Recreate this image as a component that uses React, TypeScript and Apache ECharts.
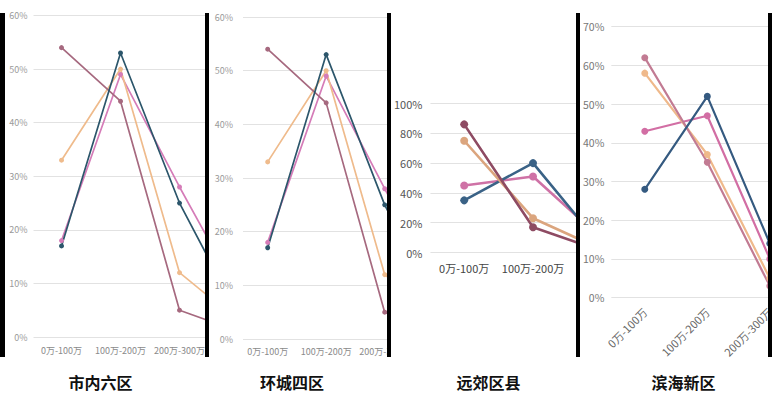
import React, { useEffect, useRef } from 'react';
import * as echarts from 'echarts';

const FONT = "'Noto Sans CJK SC', 'Open Sans', sans-serif";

const categories = ['0万-100万', '100万-200万', '200万-300万'];

// 市内六区 (last value is the tail that the crop cuts off)
const cityBlue = [17, 53, 25, 4];
const cityTan = [33, 50, 12, 3];
const cityMauve = [54, 44, 5, 1];
const cityPink = [18, 49, 28, 8];

// 环城四区
const ringBlue = [17, 53, 25, 4];
const ringTan = [33, 50, 12, 3];
const ringMauve = [54, 44, 5, 1];
const ringPink = [18, 49, 28, 8];

// 远郊区县
const suburbBlue = [35, 60, 4];
const suburbTan = [75, 23, 2];
const suburbMauve = [86, 17, 1];
const suburbPink = [45, 51, 9];

// 滨海新区
const coastBlue = [28, 52, 14];
const coastTan = [58, 37, 5];
const coastMauve = [62, 35, 3];
const coastPink = [43, 47, 10];

const cityTicks = [0, 10, 20, 30, 40, 50, 60];
const suburbTicks = [0, 20, 40, 60, 80, 100];
const coastTicks = [0, 10, 20, 30, 40, 50, 60, 70];

interface PanelCfg {
  title: string;
  left: number;
  width: number;
  titleX: number;
  grid: { left: number; top: number; height: number };
  spacing: number;
  xMin: number;
  xMax: number;
  labelCount: number;
  yTicks: number[];
  lines: { data: number[]; color: string }[];
  lineWidth: number;
  symbolSize: number;
  yLabel: { fontSize: number; color: string; margin: number };
  xLabel: { fontSize: number; color: string; margin: number; rotate?: number };
}

const toPoints = (vals: number[]) => vals.map((v, i) => [i, v]);

const PANELS: PanelCfg[] = [
  {
    title: '市内六区',
    left: 4.5,
    width: 200,
    titleX: 95.5,
    grid: { left: 28.5, top: 15.5, height: 321.5 },
    spacing: 59,
    xMin: -0.475,
    xMax: 3.3,
    labelCount: 3,
    yTicks: cityTicks,
    lines: [
      { data: cityPink, color: '#d57cb8' },
      { data: cityTan, color: '#efbb8c' },
      { data: cityMauve, color: '#a6697f' },
      { data: cityBlue, color: '#2c566b' },
    ],
    lineWidth: 1.7,
    symbolSize: 5,
    yLabel: { fontSize: 9, color: '#9a9a9a', margin: 6 },
    xLabel: { fontSize: 9, color: '#8a8a8a', margin: 9 },
  },
  {
    title: '环城四区',
    left: 209,
    width: 177.5,
    titleX: 83,
    grid: { left: 34, top: 17, height: 322 },
    spacing: 58.5,
    xMin: -0.422,
    xMax: 3.3,
    labelCount: 3,
    yTicks: cityTicks,
    lines: [
      { data: ringPink, color: '#d57cb8' },
      { data: ringTan, color: '#efbb8c' },
      { data: ringMauve, color: '#a6697f' },
      { data: ringBlue, color: '#2c566b' },
    ],
    lineWidth: 1.7,
    symbolSize: 5,
    yLabel: { fontSize: 9, color: '#9a9a9a', margin: 10 },
    xLabel: { fontSize: 9, color: '#8a8a8a', margin: 8 },
  },
  {
    title: '远郊区县',
    left: 391,
    width: 184.5,
    titleX: 97.5,
    grid: { left: 39, top: 103.5, height: 149 },
    spacing: 69,
    xMin: -0.49,
    xMax: 2.3,
    labelCount: 2,
    yTicks: suburbTicks,
    lines: [
      { data: suburbPink, color: '#cf72a6' },
      { data: suburbBlue, color: '#3a6286' },
      { data: suburbTan, color: '#dba57e' },
      { data: suburbMauve, color: '#8e4b63' },
    ],
    lineWidth: 2.6,
    symbolSize: 8,
    yLabel: { fontSize: 11, color: '#555555', margin: 8 },
    xLabel: { fontSize: 11, color: '#444444', margin: 10 },
  },
  {
    title: '滨海新区',
    left: 580,
    width: 187.5,
    titleX: 103.5,
    grid: { left: 30, top: 26.7, height: 271 },
    spacing: 63,
    xMin: -0.535,
    xMax: 2.3,
    labelCount: 3,
    yTicks: coastTicks,
    lines: [
      { data: coastPink, color: '#d26ea4' },
      { data: coastTan, color: '#efb98b' },
      { data: coastMauve, color: '#c27b93' },
      { data: coastBlue, color: '#355a80' },
    ],
    lineWidth: 2.2,
    symbolSize: 7,
    yLabel: { fontSize: 10.5, color: '#777777', margin: 7 },
    xLabel: { fontSize: 11, color: '#666666', margin: 12, rotate: 45 },
  },
];

const BARS = [0, 204.5, 386.5, 575.5, 767.5];

const buildOption = (cfg: PanelCfg): echarts.EChartsOption => {
  const yMax = cfg.yTicks[cfg.yTicks.length - 1];
  return {
    animation: false,
    textStyle: { fontFamily: FONT },
    grid: {
      left: cfg.grid.left,
      top: cfg.grid.top,
      height: cfg.grid.height,
      width: (cfg.xMax - cfg.xMin) * cfg.spacing,
      containLabel: false,
    },
    xAxis: {
      type: 'value',
      min: cfg.xMin,
      max: cfg.xMax,
      axisLine: { show: false },
      axisTick: { show: false },
      splitLine: { show: false },
      axisLabel: {
        customValues: categories.slice(0, cfg.labelCount).map((_, i) => i),
        formatter: (v: number) => (v < cfg.labelCount ? categories[v] ?? '' : ''),
        fontSize: cfg.xLabel.fontSize,
        color: cfg.xLabel.color,
        margin: cfg.xLabel.margin,
        rotate: cfg.xLabel.rotate ?? 0,
        fontFamily: FONT,
      },
    } as any,
    yAxis: {
      type: 'value',
      min: 0,
      max: yMax,
      interval: cfg.yTicks[1] - cfg.yTicks[0],
      axisLine: { show: false },
      axisTick: { show: false },
      axisLabel: {
        formatter: '{value}%',
        fontSize: cfg.yLabel.fontSize,
        color: cfg.yLabel.color,
        margin: cfg.yLabel.margin,
        fontFamily: FONT,
      },
      splitLine: { lineStyle: { color: '#e2e2e2', width: 1 } },
    },
    graphic: [
      {
        type: 'text',
        x: cfg.titleX,
        y: 382,
        style: {
          text: cfg.title,
          fontSize: 16,
          fontWeight: 'bold',
          fontFamily: FONT,
          fill: '#111111',
          align: 'center',
          verticalAlign: 'middle',
        },
      },
    ],
    series: cfg.lines.map((l) => ({
      type: 'line',
      data: toPoints(l.data),
      symbol: 'circle',
      symbolSize: cfg.symbolSize,
      lineStyle: { color: l.color, width: cfg.lineWidth },
      itemStyle: { color: l.color },
    })),
  };
};

const Panel: React.FC<{ cfg: PanelCfg }> = ({ cfg }) => {
  const divEL = useRef<HTMLDivElement>(null);

  useEffect(() => {
    const instance = echarts.init(divEL.current as any, null, { renderer: 'svg' });
    instance.setOption(buildOption(cfg));
    return () => {
      instance.dispose();
    };
  }, []);

  return (
    <div
      style={{
        position: 'absolute',
        left: cfg.left,
        top: 0,
        width: cfg.width,
        height: 403,
        overflow: 'hidden',
      }}
    >
      <div ref={divEL} style={{ width: cfg.width + 120, height: 403 }}></div>
    </div>
  );
};

const App: React.FC = () => {
  return (
    <div
      style={{
        position: 'absolute',
        left: 0,
        top: 0,
        width: 772,
        height: 403,
        background: '#ffffff',
        overflow: 'hidden',
      }}
    >
      {PANELS.map((p) => (
        <Panel key={p.title} cfg={p} />
      ))}
      {BARS.map((x) => (
        <div
          key={x}
          style={{
            position: 'absolute',
            left: x,
            top: 13,
            width: 4.5,
            height: 344,
            background: '#000000',
          }}
        ></div>
      ))}
    </div>
  );
};

export default App;
